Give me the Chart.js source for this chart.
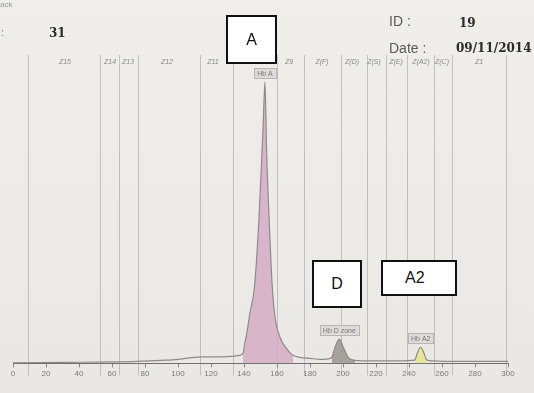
<!DOCTYPE html>
<html>
<head>
  <meta charset="UTF-8">
  <title>Hb electrophoresis</title>
  <style>
    body { margin: 0; background: #ebeae6; }
    #wrap { position: relative; width: 534px; height: 393px; overflow: hidden;
            background: linear-gradient(#efeeea, #e9e8e4); }
    canvas { position: absolute; left: 0; top: 0; }
    .hd { position: absolute; white-space: nowrap; }
    .bold { font-family: "DejaVu Serif", serif; font-weight: bold; font-size: 12px; color: #2a2a2a; }
    .lbl { font-family: "Liberation Sans", sans-serif; font-size: 14px; color: #5a5a5a; }
    .box { position: absolute; background: #fff; border: 2px solid #111; box-sizing: border-box;
           font-family: "Liberation Sans", sans-serif; font-size: 16px; color: #111;
           display: flex; align-items: center; justify-content: center; }
  </style>
</head>
<body>
<div id="wrap">
  <canvas id="chart" width="534" height="393"></canvas>
  <div class="hd" style="left:0;top:0;font:8px sans-serif;color:#999">ack</div>
  <div class="hd" style="left:1px;top:26px;font:11px sans-serif;color:#777">:</div>
  <div class="hd bold" style="left:49px;top:26px">31</div>
  <div class="hd lbl" style="left:389px;top:13px">ID :</div>
  <div class="hd bold" style="left:459px;top:16px">19</div>
  <div class="hd lbl" style="left:389px;top:40px">Date :</div>
  <div class="hd bold" style="left:456px;top:41px">09/11/2014</div>
  <div class="box" style="left:226px;top:15px;width:51px;height:49px">A</div>
  <div class="box" style="left:312px;top:260px;width:50px;height:48px">D</div>
  <div class="box" style="left:381px;top:260px;width:76px;height:36px;justify-content:flex-start;padding-left:22px">A2</div>
</div>

<script src="https://cdn.jsdelivr.net/npm/chart.js"></script>
<script>
// migration profile (x = position, y = absorbance)
const positions = [0, 30, 60, 75, 90, 100, 107, 115, 124, 132, 137.6, 139.4, 140.5, 141.6, 143.6, 146.3,
  149, 150.8, 151.8, 152.7, 153.7, 155.3, 157, 158.8, 161.8, 166.1, 169.7, 173.9, 180, 186, 190.9,
  193.2, 195.2, 197.8, 200.2, 203.2, 207.3, 216.4, 234.5, 241.8, 243.6, 245, 247.1, 249.1, 250.7, 254, 270.9, 300];
const absorbance = [0.5, 1, 1.5, 2, 3, 4, 5.5, 6.5, 6.5, 7, 8, 10, 20, 29, 50, 75,
  141, 205, 245, 279, 211, 141, 79, 46, 26, 14, 8, 6, 5, 4, 4.5,
  6, 16, 24, 16, 6, 3, 2.5, 2.5, 3, 3.5, 10, 16, 10, 3.5, 2.5, 2, 2];

const xTicks = [0, 20, 40, 60, 80, 100, 120, 140, 160, 180, 200, 220, 240, 260, 280, 300];

// peaks: name, range, fill colour
const peakNames = ['Hb A', 'Hb D zone', 'Hb A2'];
const peakFrom = [139.4, 193.2, 243.6];
const peakTo = [170, 207.3, 250.7];
const peakTop = [152.7, 197.8, 247.1];
const peakColors = ['rgba(214,172,198,0.85)', 'rgba(160,154,150,0.9)', 'rgba(232,228,150,0.95)'];

// zone borders and zone names
const zoneLines = [9.1, 52.7, 64.2, 75.8, 113.3, 133.3, 160, 176.4, 198.8, 214.5, 226, 238.8, 255.2, 266, 298.8];
const zoneNames = ['Z15', 'Z14', 'Z13', 'Z12', 'Z11', 'Z9', 'Z(F)', 'Z(D)', 'Z(S)', 'Z(E)', 'Z(A2)', 'Z(C)', 'Z1'];
const zoneNameX = [31.5, 58.8, 69.7, 93.3, 121.2, 167.3, 187.3, 205.5, 218.8, 232.1, 247.3, 260, 282.4];

const profile = positions.map((x, i) => ({ x: x, y: absorbance[i] }));

const fillSets = peakNames.map((name, i) => ({
  label: name,
  data: profile.filter(p => p.x >= peakFrom[i] && p.x <= peakTo[i]),
  borderWidth: 0,
  backgroundColor: peakColors[i],
  fill: 'origin',
  pointRadius: 0,
  cubicInterpolationMode: 'monotone'
}));

const zonePlugin = {
  id: 'zones',
  beforeDatasetsDraw(chart) {
    const { ctx, chartArea, scales } = chart;
    ctx.save();
    ctx.strokeStyle = 'rgba(140,140,140,0.45)';
    ctx.lineWidth = 1;
    zoneLines.forEach(v => {
      const x = Math.round(scales.x.getPixelForValue(v)) + 0.5;
      ctx.beginPath();
      ctx.moveTo(x, chartArea.top - 6);
      ctx.lineTo(x, chartArea.bottom + 12);
      ctx.stroke();
    });
    ctx.fillStyle = '#8a8a8a';
    ctx.font = 'italic 7px "Liberation Sans", sans-serif';
    ctx.textAlign = 'center';
    zoneNames.forEach((n, i) => {
      ctx.fillText(n, scales.x.getPixelForValue(zoneNameX[i]), chartArea.top + 3);
    });
    ctx.restore();
  },
  afterDatasetsDraw(chart) {
    const { ctx, scales } = chart;
    ctx.save();
    ctx.font = '7px "Liberation Sans", sans-serif';
    ctx.textAlign = 'center';
    ctx.textBaseline = 'middle';
    peakNames.forEach((n, i) => {
      const idx = positions.indexOf(peakTop[i]);
      const x = scales.x.getPixelForValue(peakTop[i]);
      const y = scales.y.getPixelForValue(absorbance[idx]) - 9;
      const w = ctx.measureText(n).width + 6;
      ctx.fillStyle = '#dddcd8';
      ctx.strokeStyle = '#b5b5b5';
      ctx.fillRect(x - w / 2, y - 5, w, 10);
      ctx.strokeRect(Math.round(x - w / 2) + 0.5, Math.round(y - 5) + 0.5, Math.round(w), 10);
      ctx.fillStyle = '#777';
      ctx.fillText(n, x, y + 0.5);
    });
    ctx.restore();
  }
};

new Chart(document.getElementById('chart'), {
  type: 'line',
  data: {
    datasets: [{
      label: 'profile',
      data: profile,
      borderColor: '#8e8a88',
      borderWidth: 1.2,
      pointRadius: 0,
      fill: false,
      cubicInterpolationMode: 'monotone'
    }].concat(fillSets)
  },
  options: {
    responsive: false,
    animation: false,
    layout: { padding: { left: 13, right: 26, top: 61, bottom: 12 } },
    plugins: { legend: { display: false }, tooltip: { enabled: false } },
    scales: {
      x: {
        type: 'linear',
        min: 0,
        max: 300,
        afterBuildTicks: axis => { axis.ticks = xTicks.map(v => ({ value: v })); },
        ticks: { autoSkip: false, maxRotation: 0, color: '#7a7a7a', padding: 2,
                 font: { size: 8, family: 'Liberation Sans' } },
        grid: { drawOnChartArea: false, drawTicks: true, tickLength: 4, color: '#888' },
        border: { display: true, color: '#6e6e6e', width: 1 }
      },
      y: { display: false, min: 0, max: 300 }
    }
  },
  plugins: [zonePlugin]
});
</script>
</body>
</html>
